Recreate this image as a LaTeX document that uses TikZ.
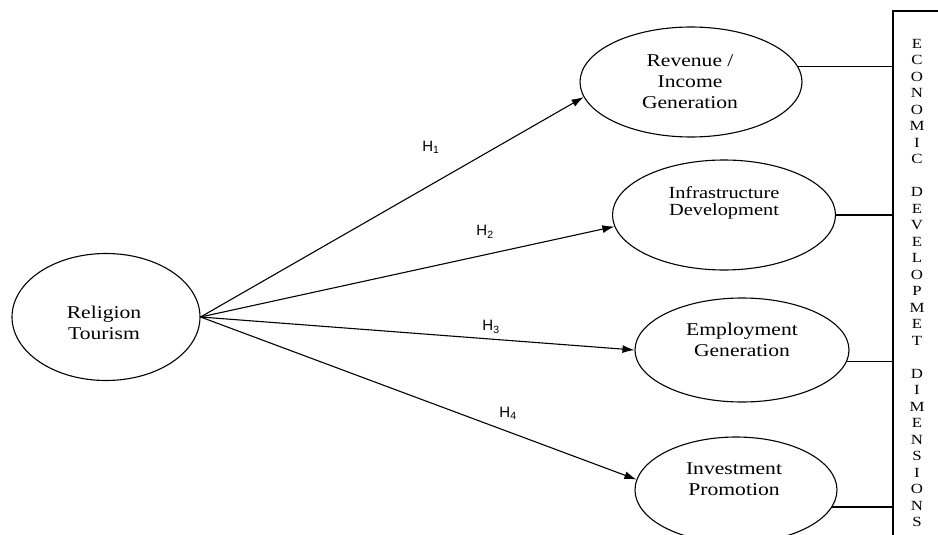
\documentclass[tikz,border=0pt]{standalone}
\usepackage{fontspec}
\setmainfont{Liberation Serif}[FakeStretch=1.2]
\newfontfamily\hfont{Liberation Sans}
\usetikzlibrary{shapes.geometric, arrows.meta}
\tikzset{>={Latex[length=12pt, width=8pt]}}
\tikzset{oval/.style={draw, ellipse, inner sep=0pt}}
\tikzset{ovaltext/.style={align=center, inner sep=0pt, font=\fontsize{18}{21}\selectfont}}
\tikzset{hyp/.style={inner sep=0pt, font=\hfont\fontsize{15}{15}\selectfont}}
\newcommand*{\Hyp}[1]{H\textsubscript{#1}}

\begin{document}
\begin{tikzpicture}[x=1pt, y=-1pt, line width=1.1pt]
    \useasboundingbox(0, 0)rectangle(938, 535);
    \node[oval, minimum width=188pt, minimum height=127pt](rel)at(106, 317){};
    \node[oval, minimum width=222pt, minimum height=110pt](rev)at(691, 82){};
    \node[oval, minimum width=223pt, minimum height=110pt](infra)at(724, 215){};
    \node[oval, minimum width=214pt, minimum height=104pt](emp)at(742, 350){};
    \node[oval, minimum width=202pt, minimum height=106pt](inv)at(736, 490){};
    \node[ovaltext](rel-t)at(104, 323){Religion\\Tourism};
    \node[ovaltext](rev-t)at(690, 82){Revenue /\\Income\\Generation};
    \node[ovaltext, font=\fontsize{17}{17}\selectfont](infra-t)at(724, 203){Infrastructure\\Development};
    \node[ovaltext](emp-t)at(742, 340){Employment\\Generation};
    \node[ovaltext](inv-t)at(734, 479){Investment\\Promotion};
    \draw[->](rel.east)--(rev.188);
    \draw[->](rel.east)--(infra.186);
    \draw[->](rel.east)--(emp.west);
    \draw[->](rel.east)--(inv.174);
    \node[hyp](h1)at(431, 147){\Hyp{1}};
    \node[hyp](h2)at(485, 232){\Hyp{2}};
    \node[hyp](h3)at(491, 327){\Hyp{3}};
    \node[hyp](h4)at(508, 413){\Hyp{4}};
    % dimensions box
    \coordinate(edge)at(893, 11);
    \draw(938, 11)--(edge)--(893, 535);
    \draw(rev.8)--(rev.8 -| edge);
    \draw(infra.east)--(infra.east -| edge);
    \draw(emp.-6)--(emp.-6 -| edge);
    \draw(inv.-10)--(inv.-10 -| edge);
    \node[align=center, inner sep=0pt, font=\fontsize{14}{16.5}\selectfont](dims)at(917, 283)
        {E\\C\\O\\N\\O\\M\\I\\C\\[16.5pt]D\\E\\V\\E\\L\\O\\P\\M\\E\\T\\[16.5pt]D\\I\\M\\E\\N\\S\\I\\O\\N\\S};
\end{tikzpicture}
\end{document}
